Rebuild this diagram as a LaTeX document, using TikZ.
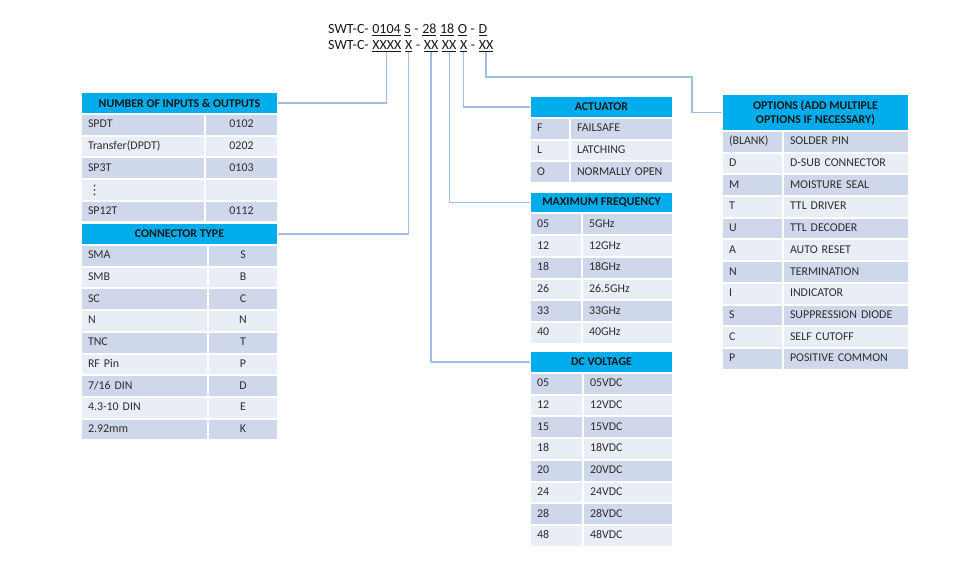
\documentclass[tikz,border=0pt]{standalone}
\usepackage{fontspec}
\setmainfont{Carlito}
\newfontfamily\symfnt{DejaVu Sans}
\usetikzlibrary{positioning}
\definecolor{hdrblue}{RGB}{0,172,236}
\definecolor{rowdark}{RGB}{207,216,234}
\definecolor{rowlight}{RGB}{233,237,245}
\definecolor{linkblue}{RGB}{160,190,225}
\definecolor{txtgray}{RGB}{45,45,45}
\newcommand\codefnt{\fontsize{14}{16}\selectfont}
\newcommand\rowfnt{\fontsize{11.9}{14}\selectfont}
\newcommand\hdrfnt{\fontsize{11.9}{14}\selectfont\bfseries}
\tikzset{
  code/.style={font=\codefnt, text=black!90, inner sep=0pt},
  hdr/.style={anchor=north west, fill=hdrblue, draw=white, line width=2pt, outer sep=0pt,
    inner sep=0pt, font=\hdrfnt, text=black!90, align=center},
  cell/.style={anchor=north west, draw=white, line width=2pt, outer sep=0pt, inner xsep=7pt,
    inner ysep=0pt, minimum height=21.7pt, text height=8.5pt, text depth=2.5pt,
    font=\rowfnt, text=txtgray, align=left},
  link/.style={draw=linkblue, line width=1.2pt}
}
\begin{document}
\begin{tikzpicture}[x=1pt, y=-1pt]
\useasboundingbox (0,0) rectangle (962,572);

\node[code, anchor=base west] (a0) at (328,34) {SWT-C-};
\node[code, base right=3.2pt of a0] (a1) {\underline{0104}};
\node[code, base right=3.2pt of a1] (a2) {\underline{S}};
\node[code, base right=3.2pt of a2] (a3) {-};
\node[code, base right=3.2pt of a3] (a4) {\underline{28}};
\node[code, base right=3.2pt of a4] (a5) {\underline{18}};
\node[code, base right=3.2pt of a5] (a6) {\underline{O}};
\node[code, base right=3.2pt of a6] (a7) {-};
\node[code, base right=3.2pt of a7] (a8) {\underline{D}};

\node[code, anchor=base west] (b0) at (328,50) {SWT-C-};
\node[code, base right=3.2pt of b0] (b1) {\underline{XXXX}};
\node[code, base right=3.2pt of b1] (b2) {\underline{X}};
\node[code, base right=3.2pt of b2] (b3) {-};
\node[code, base right=3.2pt of b3] (b4) {\underline{XX}};
\node[code, base right=3.2pt of b4] (b5) {\underline{XX}};
\node[code, base right=3.2pt of b5] (b6) {\underline{X}};
\node[code, base right=3.2pt of b6] (b7) {-};
\node[code, base right=3.2pt of b7] (b8) {\underline{XX}};

\node[hdr, minimum width=197pt, minimum height=22pt] (numhdr) at (81,92) {NUMBER OF INPUTS \& OUTPUTS};
\foreach \a/\b [count=\i from 0] in {SPDT/0102, Transfer(DPDT)/0202, SP3T/0103, {{\symfnt\fontsize{13}{13}\selectfont\raisebox{-1.5pt}{⋮}}}/{}, SP12T/0112}{
  \ifodd\i \def\rc{rowlight}\else \def\rc{rowdark}\fi
  \node[cell, fill=\rc, text width=110pt] (num-a\i) at (81,{114+21.7*\i}) {\a};
  \node[cell, fill=\rc, text width=59pt, align=center] (num-b\i) at (205,{114+21.7*\i}) {\b};
}

\node[hdr, minimum width=197pt, minimum height=22pt] (conhdr) at (81,223) {CONNECTOR TYPE};
\foreach \a/\b [count=\i from 0] in {SMA/S, SMB/B, SC/C, N/N, TNC/T, RF Pin/P, {7/16 DIN}/D, 4.3-10 DIN/E, 2.92mm/K}{
  \ifodd\i \def\rc{rowlight}\else \def\rc{rowdark}\fi
  \node[cell, fill=\rc, text width=113pt] (con-a\i) at (81,{245+21.7*\i}) {\a};
  \node[cell, fill=\rc, text width=56pt, align=center] (con-b\i) at (208,{245+21.7*\i}) {\b};
}

\node[hdr, minimum width=143pt, minimum height=22pt] (acthdr) at (530,96) {ACTUATOR};
\foreach \a/\b [count=\i from 0] in {F/FAILSAFE, L/LATCHING, O/NORMALLY OPEN}{
  \ifodd\i \def\rc{rowlight}\else \def\rc{rowdark}\fi
  \node[cell, fill=\rc, text width=26pt] (act-a\i) at (530,{118+21.7*\i}) {\a};
  \node[cell, fill=\rc, text width=89pt] (act-b\i) at (570,{118+21.7*\i}) {\b};
}

\node[hdr, minimum width=143pt, minimum height=21.5pt] (freqhdr) at (530,192) {MAXIMUM FREQUENCY};
\foreach \a/\b [count=\i from 0] in {05/5GHz, 12/12GHz, 18/18GHz, 26/26.5GHz, 33/33GHz, 40/40GHz}{
  \ifodd\i \def\rc{rowlight}\else \def\rc{rowdark}\fi
  \node[cell, fill=\rc, text width=38pt] (freq-a\i) at (530,{213.5+21.7*\i}) {\a};
  \node[cell, fill=\rc, text width=77pt] (freq-b\i) at (582,{213.5+21.7*\i}) {\b};
}

\node[hdr, minimum width=143pt, minimum height=22pt] (dchdr) at (530,351) {DC VOLTAGE};
\foreach \a/\b [count=\i from 0] in {05/05VDC, 12/12VDC, 15/15VDC, 18/18VDC, 20/20VDC, 24/24VDC, 28/28VDC, 48/48VDC}{
  \ifodd\i \def\rc{rowlight}\else \def\rc{rowdark}\fi
  \node[cell, fill=\rc, text width=39pt] (dc-a\i) at (530,{373+21.7*\i}) {\a};
  \node[cell, fill=\rc, text width=76pt] (dc-b\i) at (583,{373+21.7*\i}) {\b};
}

\node[hdr, minimum width=187pt, minimum height=37pt] (opthdr) at (722,94) {OPTIONS (ADD MULTIPLE\\OPTIONS IF NECESSARY)};
\foreach \a/\b [count=\i from 0] in {{(BLANK)}/SOLDER PIN, D/D-SUB CONNECTOR, M/MOISTURE SEAL, T/TTL DRIVER, U/TTL DECODER, A/AUTO RESET, N/TERMINATION, I/INDICATOR, S/SUPPRESSION DIODE, C/SELF CUTOFF, P/POSITIVE COMMON}{
  \ifodd\i \def\rc{rowlight}\else \def\rc{rowdark}\fi
  \node[cell, fill=\rc, text width=47pt] (opt-a\i) at (722,{131+21.7*\i}) {\a};
  \node[cell, fill=\rc, text width=112pt] (opt-b\i) at (783,{131+21.7*\i}) {\b};
}

\coordinate (bend) at (692,77);
\draw[link] (b1.south) |- (numhdr.east);
\draw[link] (b2.south) |- (conhdr.east);
\draw[link] (b4.south) |- (dchdr.west);
\draw[link] (b5.south) |- (freqhdr.west);
\draw[link] (b6.south) |- (acthdr.west);
\draw[link] (b8.south) |- (bend) |- (opthdr.west);
\end{tikzpicture}
\end{document}
